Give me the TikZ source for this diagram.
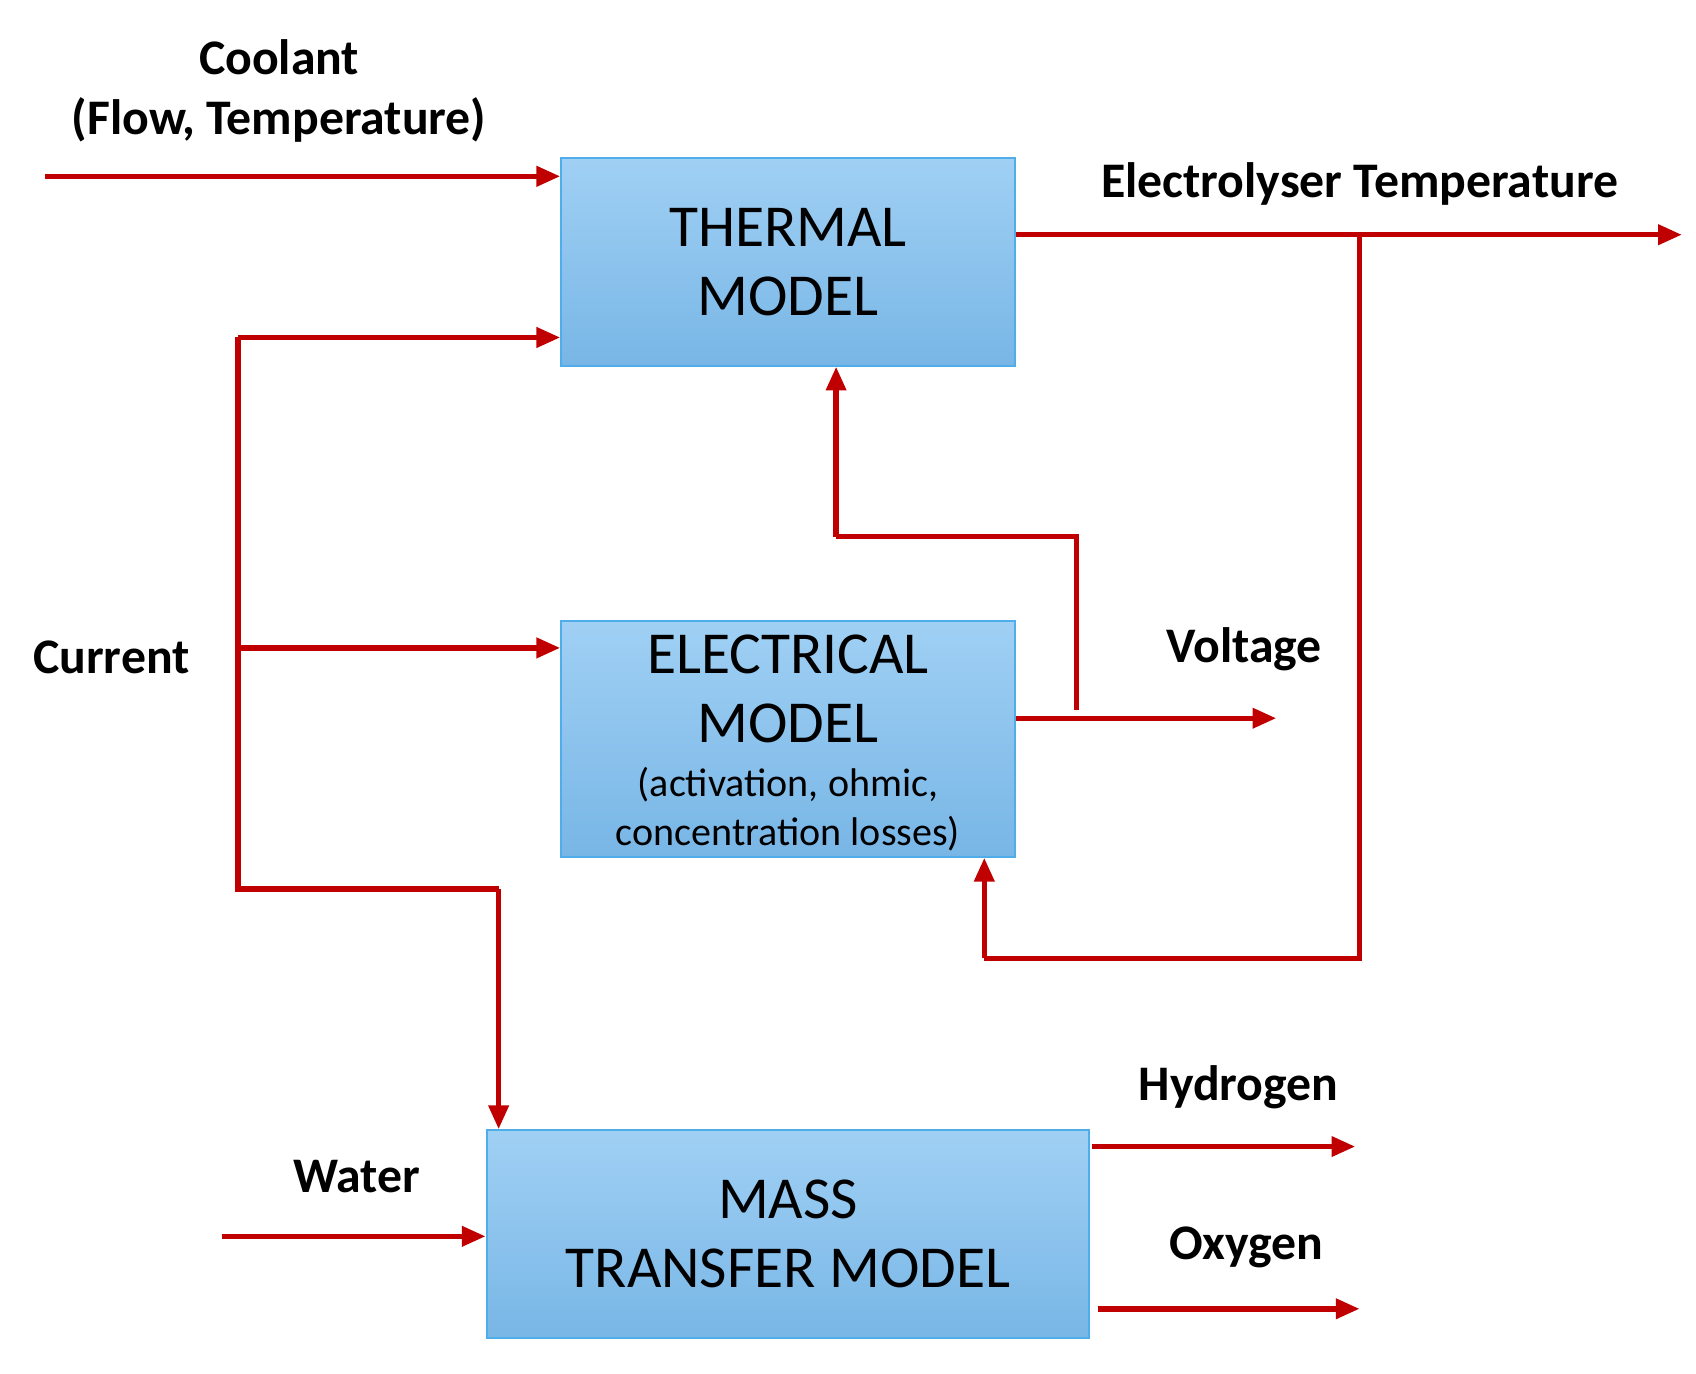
\documentclass[tikz,border=0pt]{standalone}
\usepackage{fontspec}
\setmainfont{Carlito}
\usetikzlibrary{arrows.meta}
\definecolor{lred}{HTML}{C00000}
\definecolor{btop}{HTML}{A0D0F4}
\definecolor{bbot}{HTML}{78B6E6}
\definecolor{bdr}{HTML}{4FAEEA}
\begin{document}
\begin{tikzpicture}[x=1pt,y=-1pt,
  box/.style={draw=bdr,line width=2pt,top color=btop,bottom color=bbot,align=center,inner sep=0pt},
  ln/.style={draw=lred,line width=5pt},
  ar/.style={ln,-{Triangle[length=22pt,width=18pt]}},
  lab/.style={font=\fontsize{46}{56}\selectfont\bfseries,align=center},
  bt/.style={font=\fontsize{55}{64}\selectfont,align=center}]
\useasboundingbox (0,0) rectangle (1568,1270);
\node[box,minimum width=419pt,minimum height=192pt,bt] (th) at (728.5,242) {THERMAL\\MODEL};
\node[box,minimum width=419pt,minimum height=218pt] (el) at (728.5,683) {};
\node[bt] (elt) at (728.5,637) {ELECTRICAL\\MODEL};
\node[font=\fontsize{37}{46}\selectfont,align=center] (els) at (728.5,748) {(activation, ohmic,\\concentration losses)};
\node[box,minimum width=557pt,minimum height=192pt,bt] (ms) at (728.5,1141) {MASS\\TRANSFER MODEL};
\node[lab] (tc) at (258,84) {Coolant\\(Flow, Temperature)};
\node[lab] (tt) at (1257,170) {Electrolyser Temperature};
\node[lab] (tcur) at (103,608) {Current};
\node[lab] (tv) at (1150,600) {Voltage};
\node[lab] (tw) at (330,1088) {Water};
\node[lab] (th2) at (1145,1005) {Hydrogen};
\node[lab] (to) at (1152,1153) {Oxygen};
\coordinate (c0) at (42,163);
\coordinate (tend) at (1555,217);
\coordinate (vend) at (1180,664);
\coordinate (w0) at (205,1143);
\coordinate (hend) at (1253,1060);
\coordinate (oend) at (1257,1210);
\draw[ar] (c0) -- (c0 -| th.west);
\draw[ar] (th.east |- tend) -- (tend);
\draw[ln] (1257,217) -- (1257,886) -- (910,886);
\draw[ar] (910,886) -- (910,793);
\draw[ar] (220,312) -- (th.west |- 0,312);
\draw[ln] (220,312) -- (220,822) -- (461,822);
\draw[ar] (461,822) -- (461,1044);
\draw[ar] (220,599) -- (el.west |- 0,599);
\draw[ar] (el.east |- vend) -- (vend);
\draw[ln] (995,656) -- (995,496) -- (773,496);
\draw[ar] (773,496) -- (773,339);
\draw[ar] (w0) -- (ms.west |- w0);
\draw[ar] (1010,1060) -- (hend);
\draw[ar] (1015,1210) -- (oend);
\end{tikzpicture}
\end{document}
